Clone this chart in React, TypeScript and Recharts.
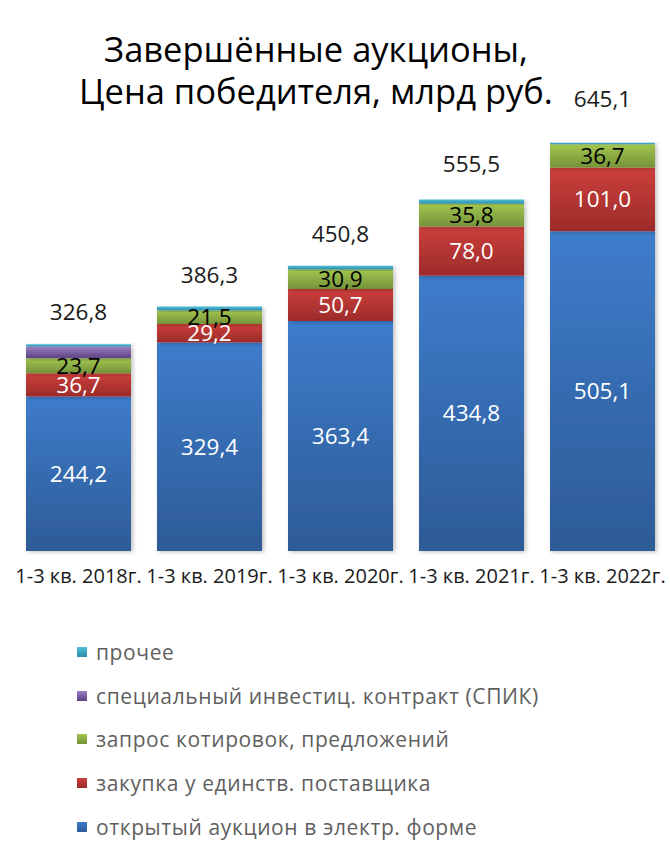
import { BarChart, Bar, XAxis, YAxis, LabelList } from "recharts";

const periods = [
  "1-3 кв. 2018г.",
  "1-3 кв. 2019г.",
  "1-3 кв. 2020г.",
  "1-3 кв. 2021г.",
  "1-3 кв. 2022г.",
];
const openAuction = [244.2, 329.4, 363.4, 434.8, 505.1];
const singleSupplier = [36.7, 29.2, 50.7, 78.0, 101.0];
const quotations = [23.7, 21.5, 30.9, 35.8, 36.7];
const spik = [18.6, 0, 0, 0, 0];
const other = [3.6, 6.2, 5.8, 6.9, 2.3];
const totals = [326.8, 386.3, 450.8, 555.5, 645.1];

const data = periods.map((p, i) => ({
  period: p,
  open: openAuction[i],
  single: singleSupplier[i],
  quote: quotations[i],
  spik: spik[i],
  other: other[i],
  total: totals[i],
}));

const series = [
  { key: "open", name: "открытый аукцион в электр. форме", top: "#3e7ccb", bottom: "#2d5b96", label: "#ffffff" },
  { key: "single", name: "закупка у единств. поставщика", top: "#cc3f3c", bottom: "#9c2b29", label: "#ffffff" },
  { key: "quote", name: "запрос котировок, предложений", top: "#a2c64f", bottom: "#75933a", label: "#000000" },
  { key: "spik", name: "специальный инвестиц. контракт (СПИК)", top: "#9b7fc4", bottom: "#5c4280", label: "" },
  { key: "other", name: "прочее", top: "#4fc0dc", bottom: "#2f8ca6", label: "" },
];

const fmt = (v: any) => Number(v).toFixed(1).replace(".", ",");
const font = "'Open Sans', sans-serif";

// extra lift of the total labels, as in the original layout
const totalLift = [0, 0, 0, 3, 12];

function TotalLabel(props: any) {
  const { x, y, width, value, index } = props;
  return (
    <text
      x={x + width / 2}
      y={y - 24 - (totalLift[index] || 0)}
      textAnchor="middle"
      style={{ fontFamily: font, fontSize: 22.5, fill: "#1a1a1a" }}
    >
      {fmt(value)}
    </text>
  );
}

function LegendList() {
  const items = [...series].reverse();
  return (
    <div style={{ position: "absolute", left: 77, top: 630, fontFamily: font }}>
      {items.map((s) => (
        <div
          key={s.key}
          style={{
            display: "flex",
            alignItems: "center",
            height: 43.8,
            fontSize: 21,
            letterSpacing: 0.6,
            color: "#5f5f5f",
            whiteSpace: "nowrap",
          }}
        >
          <span
            style={{
              display: "inline-block",
              width: 10,
              height: 10,
              marginRight: 9,
              background: `linear-gradient(${s.top}, ${s.bottom})`,
            }}
          />
          {s.name}
        </div>
      ))}
    </div>
  );
}

export default function App() {
  return (
    <div style={{ position: "absolute", left: 0, top: 0, width: 670, height: 847, background: "#fff" }}>
      <div
        style={{
          position: "absolute",
          left: 0,
          top: 28,
          width: 632,
          textAlign: "center",
          fontFamily: font,
          fontSize: 34.5,
          lineHeight: "42px",
          color: "#000",
        }}
      >
        Завершённые аукционы,
        <br />
        Цена победителя, млрд руб.
      </div>
      <BarChart
        width={670}
        height={620}
        data={data}
        margin={{ top: 108, right: 2, left: 13, bottom: 29 }}
        barSize={105}
        style={{ position: "absolute", left: 0, top: 0 }}
      >
        <defs>
          {series.map((s) => (
            <linearGradient key={s.key} id={`g-${s.key}`} x1="0" y1="0" x2="0" y2="1">
              <stop offset="0%" stopColor={s.top} />
              <stop offset="100%" stopColor={s.bottom} />
            </linearGradient>
          ))}
          <filter id="shadow" x="-10%" y="-10%" width="130%" height="130%">
            <feDropShadow dx="2" dy="1" stdDeviation="2" floodColor="#000" floodOpacity="0.25" />
          </filter>
        </defs>
        <XAxis
          dataKey="period"
          axisLine={false}
          tickLine={false}
          height={40}
          interval={0}
          tick={{ fontFamily: font, fontSize: 20, fill: "#1a1a1a" }}
          tickMargin={12}
        />
        <YAxis hide domain={[0, 700]} />
        {series.map((s, i) => (
          <Bar
            key={s.key}
            dataKey={s.key}
            name={s.name}
            stackId="a"
            fill={`url(#g-${s.key})`}
            isAnimationActive={false}
            style={{ filter: "url(#shadow)" }}
          >
            {s.label && (
              <LabelList
                dataKey={s.key}
                position="center"
                formatter={fmt}
                style={{ fontFamily: font, fontSize: 22.5, fill: s.label }}
              />
            )}
            {i === series.length - 1 && <LabelList dataKey="total" content={TotalLabel} />}
          </Bar>
        ))}
      </BarChart>
      <LegendList />
    </div>
  );
}
